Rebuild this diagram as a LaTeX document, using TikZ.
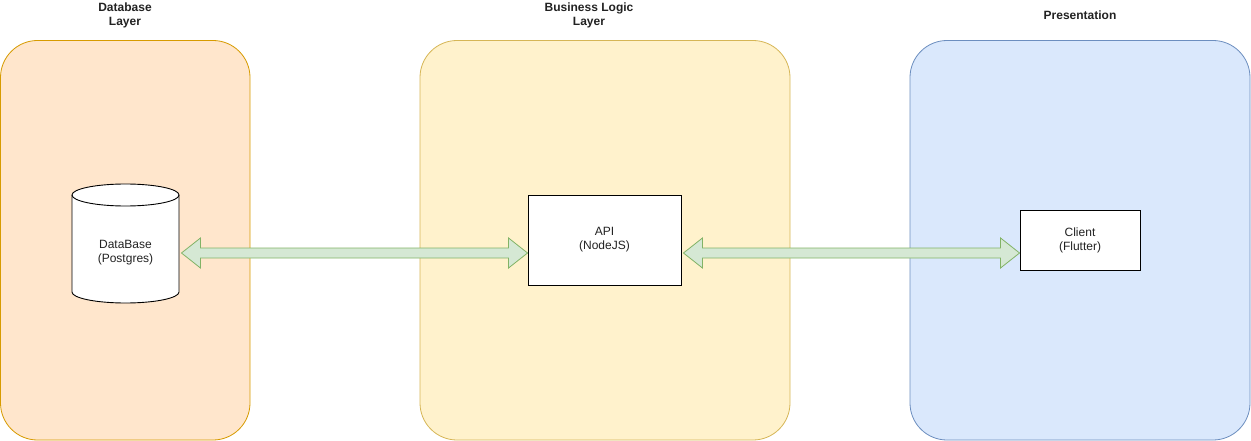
\documentclass[tikz,border=0pt]{standalone}
\usepackage{fontspec}
\setmainfont{Liberation Sans}
\usetikzlibrary{calc}
\definecolor{orfill}{HTML}{FFE6CC}\definecolor{ordraw}{HTML}{D79B00}
\definecolor{yefill}{HTML}{FFF2CC}\definecolor{yedraw}{HTML}{D6B656}
\definecolor{blfill}{HTML}{DAE8FC}\definecolor{bldraw}{HTML}{6C8EBF}
\definecolor{grfill}{HTML}{D5E8D4}\definecolor{grdraw}{HTML}{82B366}
\definecolor{txt}{HTML}{222222}
\tikzset{
  layer/.style={rounded corners=37pt, line width=0.8pt},
  title/.style={font=\fontsize{12}{14}\selectfont\bfseries, align=center, text=txt},
  box/.style={draw=black, fill=white, line width=0.9pt, align=center, font=\fontsize{12}{14}\selectfont, text=txt, inner sep=0pt},
  flex/.style={draw=grdraw, fill=grfill, line width=0.8pt, line join=miter},
}
\begin{document}
\begin{tikzpicture}[x=1pt,y=-1pt]
\useasboundingbox (0,0) rectangle (1251,441);
% layers
\draw[layer, fill=orfill, draw=ordraw] (0.5,40.5) rectangle (250,440);
\draw[layer, fill=yefill, draw=yedraw] (420,40.5) rectangle (790,440);
\draw[layer, fill=blfill, draw=bldraw] (910,40.5) rectangle (1250,440);
% titles
\node[title] (t1) at (125,15) {Database\\Layer};
\node[title] (t2) at (589,15) {Business Logic\\Layer};
\node[title] (t3) at (1080,15) {Presentation};
% cylinder
\draw[fill=white, draw=black, line width=0.9pt]
  (72,195) -- (72,292) arc[x radius=53.5, y radius=11, start angle=180, end angle=0]
  -- (179,195) arc[x radius=53.5, y radius=11, start angle=0, end angle=-180] -- cycle;
\draw[black, line width=0.9pt] (72,195) arc[x radius=53.5, y radius=11, start angle=180, end angle=0];
\node[box, draw=none, fill=none, minimum width=107pt, minimum height=100pt] (db) at (125.5,253) {DataBase\\(Postgres)};
% boxes
\node[box, minimum width=153pt, minimum height=90pt] (api) at (604.5,240) {API\\(NodeJS)};
\node[box, minimum width=120pt, minimum height=60pt] (cl) at (1080,240) {Client\\(Flutter)};
% flex arrows
\coordinate (a1) at ($(db.east)+(2,0)$);
\coordinate (b1) at (api.west |- a1);
\draw[flex] (a1) -- ++(19,-15) -- ++(0,10) -- ($(b1)+(-19,-5)$) -- ++(0,-10) -- (b1)
  -- ++(-19,15) -- ++(0,-10) -- ($(a1)+(19,5)$) -- ++(0,10) -- cycle;
\coordinate (a2) at ($(api.east)+(2,13)$);
\coordinate (b2) at (cl.west |- a2);
\draw[flex] (a2) -- ++(19,-15) -- ++(0,10) -- ($(b2)+(-19,-5)$) -- ++(0,-10) -- (b2)
  -- ++(-19,15) -- ++(0,-10) -- ($(a2)+(19,5)$) -- ++(0,10) -- cycle;
\end{tikzpicture}
\end{document}
